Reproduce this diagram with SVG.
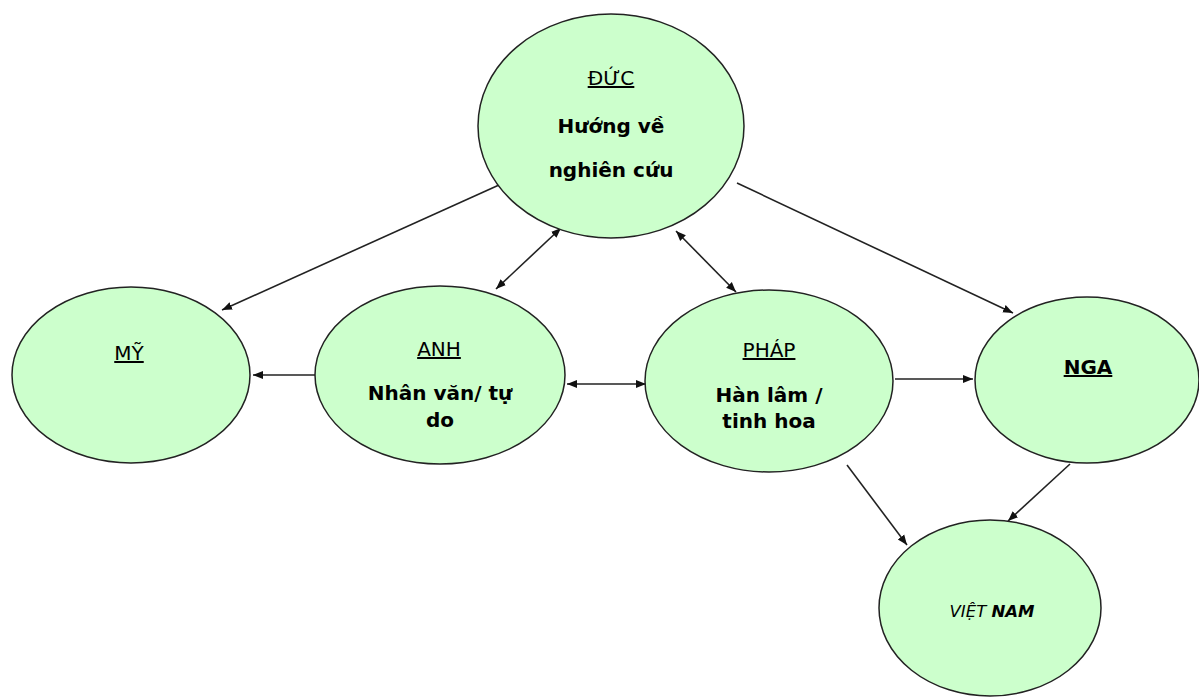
<svg xmlns="http://www.w3.org/2000/svg" width="1199" height="700" viewBox="0 0 1199 700">
<defs>
<marker id="ah" viewBox="0 0 10 10" refX="10" refY="5" markerWidth="10" markerHeight="10" markerUnits="userSpaceOnUse" orient="auto-start-reverse">
<path d="M0,1 L10,5 L0,9 z" fill="#111"/>
</marker>
<style>
.n{fill:#ccffcc;stroke:#222;stroke-width:1.5}
.t{font-family:"DejaVu Sans",sans-serif;font-size:20px;fill:#000;text-anchor:middle}
.b{font-weight:bold}
.u{text-decoration:underline}
.c line{stroke:#222;stroke-width:1.6}
</style>
</defs>
<rect width="1199" height="700" fill="#fff"/>
<g class="c" id="connectors">
<line x1="499" y1="185" x2="222" y2="310" marker-end="url(#ah)"/>
<line x1="561" y1="228" x2="496" y2="289" marker-start="url(#ah)" marker-end="url(#ah)"/>
<line x1="676" y1="231" x2="736" y2="292" marker-start="url(#ah)" marker-end="url(#ah)"/>
<line x1="737" y1="183" x2="1013" y2="313" marker-end="url(#ah)"/>
<line x1="316" y1="375" x2="253" y2="375" marker-end="url(#ah)"/>
<line x1="567" y1="384" x2="646" y2="384" marker-start="url(#ah)" marker-end="url(#ah)"/>
<line x1="895" y1="379" x2="973" y2="379" marker-end="url(#ah)"/>
<line x1="847" y1="465" x2="907" y2="545" marker-end="url(#ah)"/>
<line x1="1070" y1="464" x2="1008" y2="521" marker-end="url(#ah)"/>
</g>
<g id="duc">
<ellipse class="n" cx="611" cy="126" rx="133" ry="112"/>
<text class="t u" x="611" y="85">ĐỨC</text>
<text class="t b" x="611" y="133">Hướng về</text>
<text class="t b" x="611" y="177">nghiên cứu</text>
</g>
<g id="my">
<ellipse class="n" cx="131" cy="375" rx="119" ry="88"/>
<text class="t u" x="129" y="360">MỸ</text>
</g>
<g id="anh">
<ellipse class="n" cx="440" cy="375" rx="125" ry="89"/>
<text class="t u" x="439" y="356">ANH</text>
<text class="t b" x="440" y="400">Nhân văn/ tự</text>
<text class="t b" x="440" y="427">do</text>
</g>
<g id="phap">
<ellipse class="n" cx="769" cy="381" rx="124" ry="91"/>
<text class="t u" x="769" y="357">PHÁP</text>
<text class="t b" x="769" y="402">Hàn lâm /</text>
<text class="t b" x="769" y="428">tinh hoa</text>
</g>
<g id="nga">
<ellipse class="n" cx="1087" cy="380" rx="112" ry="83"/>
<text class="t b u" x="1088" y="374">NGA</text>
</g>
<g id="vietnam">
<ellipse class="n" cx="990" cy="608" rx="111" ry="88"/>
<text class="t" x="992" y="617" style="font-size:16.5px;font-style:italic">VIỆT <tspan class="b">NAM</tspan></text>
</g>
</svg>
